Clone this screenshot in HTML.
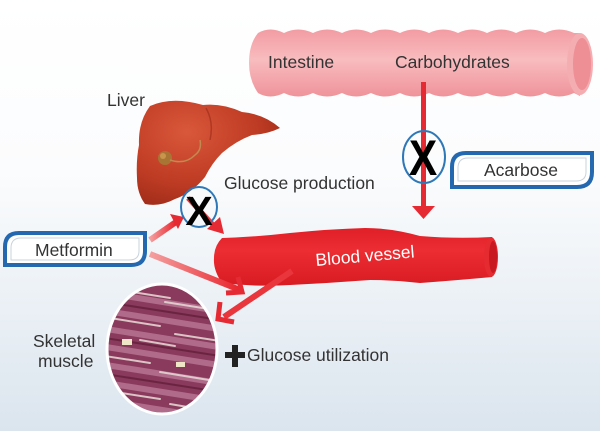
<!DOCTYPE html>
<html><head><meta charset="utf-8"><style>
html,body{margin:0;padding:0;width:600px;height:431px;overflow:hidden;background:#fff}
svg{display:block}
text{font-family:"Liberation Sans",Arial,sans-serif}
</style></head><body>
<svg width="600" height="431" viewBox="0 0 600 431" xmlns="http://www.w3.org/2000/svg">
<defs>
<linearGradient id="bg" x1="0" y1="0" x2="0" y2="1">
<stop offset="0" stop-color="#ffffff"/><stop offset="0.4" stop-color="#fbfcfd"/><stop offset="1" stop-color="#dbe5ee"/>
</linearGradient>
<linearGradient id="intg" x1="0" y1="0" x2="0" y2="1">
<stop offset="0" stop-color="#f29ca2"/><stop offset="0.45" stop-color="#f8bcbf"/><stop offset="1" stop-color="#ef939a"/>
</linearGradient>
<linearGradient id="vg" x1="0" y1="0" x2="0" y2="1">
<stop offset="0" stop-color="#e01f27"/><stop offset="0.4" stop-color="#ec2e33"/><stop offset="1" stop-color="#d81a22"/>
</linearGradient>
<radialGradient id="lg" cx="0.35" cy="0.3" r="0.8">
<stop offset="0" stop-color="#d9573a"/><stop offset="0.6" stop-color="#bf3c24"/><stop offset="1" stop-color="#9c2a18"/>
</radialGradient>
<linearGradient id="ag1" x1="0" y1="0" x2="1" y2="0">
<stop offset="0" stop-color="#f4a0a0"/><stop offset="1" stop-color="#e8242c"/>
</linearGradient>
<clipPath id="mc"><ellipse cx="162" cy="349" rx="54" ry="64"/></clipPath>
</defs>
<rect width="600" height="431" fill="url(#bg)"/>

<!-- Intestine -->
<path d="M258 33 Q270 26 284 33 Q298 26 313 33 Q327 26 342 33 Q356 26 371 33 Q385 26 400 33 Q414 26 429 33 Q443 26 458 33 Q472 26 487 33 Q501 26 516 33 Q530 26 545 33 Q559 26 574 33 L580 33 L580 96 L574 93 Q559 100 545 93 Q530 100 516 93 Q501 100 487 93 Q472 100 458 93 Q443 100 429 93 Q414 100 400 93 Q385 100 371 93 Q356 100 342 93 Q327 100 313 93 Q298 100 284 93 Q270 100 258 93 Q249 80 249 63 Q249 44 258 33 Z" fill="url(#intg)"/>
<ellipse cx="580" cy="64" rx="13" ry="31" fill="#f4aeb2"/>
<ellipse cx="582" cy="64" rx="9" ry="26" fill="#ee8e95"/>
<text x="268" y="68" font-size="17.5" fill="#333">Intestine</text>
<text x="395" y="68" font-size="17.5" fill="#333">Carbohydrates</text>

<!-- vertical arrow -->
<rect x="421" y="82" width="5" height="126" fill="#e52a33"/>
<polygon points="412,206 435,206 423.5,219" fill="#e52a33"/>
<ellipse cx="424" cy="157" rx="21" ry="26" fill="none" stroke="#2f78b8" stroke-width="2"/>
<text x="423" y="175" font-size="50" font-weight="bold" text-anchor="middle" fill="#000" transform="translate(423 0) scale(0.85 1) translate(-423 0)">X</text>

<!-- Acarbose box -->
<path d="M466 153 L592 153 L592 172 Q592 187 577 187 L452 187 L452 167 Q452 153 466 153 Z" fill="#fff" stroke="#2468b0" stroke-width="4"/>
<path d="M468 158 L586 158 L586 172 Q586 181 576 181 L458 181 L458 168 Q458 158 468 158 Z" fill="#fff" stroke="#c9d3de" stroke-width="1"/>
<text x="484" y="176" font-size="17.5" fill="#333">Acarbose</text>

<!-- Liver -->
<path d="M150 106 Q172 96 203 105 Q222 103 242 112 Q264 114 280 128 Q268 134 252 135 Q236 141 222 153 Q212 163 205 177 Q192 193 175 199 Q160 207 145 204 Q137 193 137 178 Q136 160 139 145 Q138 122 150 106 Z" fill="url(#lg)"/>
<path d="M206 108 Q214 122 210 140" stroke="#9b2a18" stroke-width="1.5" fill="none" opacity="0.6"/>
<circle cx="165" cy="158" r="7" fill="#a87534"/>
<circle cx="163" cy="156" r="3" fill="#c9954c"/>
<path d="M170 160 Q185 165 195 155 Q202 150 200 140" stroke="#c08a50" stroke-width="1.5" fill="none"/>
<text x="107" y="106" font-size="17.5" fill="#333">Liver</text>
<text x="224" y="189" font-size="17.5" fill="#333">Glucose production</text>

<!-- liver arrow -->
<line x1="188" y1="198" x2="216" y2="228" stroke="#e53a40" stroke-width="5"/>
<polygon points="207,229 224,234 220,217" fill="#e52a33"/>
<!-- metformin to liver -->
<line x1="150" y1="240" x2="176" y2="222" stroke="url(#ag1)" stroke-width="6"/>
<polygon points="170,214 184,217 178,229" fill="#e52a33"/>
<ellipse cx="199" cy="207" rx="18" ry="20" fill="none" stroke="#2f78b8" stroke-width="2"/>
<text x="199" y="225" font-size="41" font-weight="bold" text-anchor="middle" fill="#000">X</text>

<!-- Metformin box -->
<path d="M19 233 L145 233 L145 251 Q145 265 131 265 L5 265 L5 247 Q5 233 19 233 Z" fill="#fff" stroke="#2468b0" stroke-width="4"/>
<path d="M21 238 L139 238 L139 251 Q139 260 129 260 L11 260 L11 248 Q11 238 21 238 Z" fill="#fff" stroke="#c9d3de" stroke-width="1"/>
<text x="35" y="256" font-size="17.5" fill="#333">Metformin</text>

<!-- Blood vessel -->
<path d="M222 238 Q255 237 290 233 Q330 229 365 228 Q392 228 420 236 Q455 239 492 237 L492 277 Q460 280 420 283 Q395 280 370 280 Q330 283 290 285 Q255 287 222 283 Q213 270 214 258 Q214 246 222 238 Z" fill="url(#vg)"/>
<ellipse cx="491" cy="257" rx="7" ry="20" fill="#e52a30"/>
<ellipse cx="493" cy="257" rx="4" ry="16" fill="#c81820"/>
<text x="316" y="266" font-size="17.5" fill="#fff" transform="rotate(-5 316 266)">Blood vessel</text>

<!-- metformin to muscle arrow -->
<line x1="150" y1="254" x2="240" y2="290" stroke="url(#ag1)" stroke-width="6"/>
<polyline points="226,293 242,292 238,277" fill="none" stroke="#e52a33" stroke-width="5"/>
<!-- vessel to muscle arrow -->
<line x1="292" y1="271" x2="224" y2="317" stroke="#e8363c" stroke-width="6"/>
<polyline points="220,302 218,319 234,322" fill="none" stroke="#e52a33" stroke-width="5"/>

<!-- Muscle -->
<ellipse cx="162" cy="349" rx="56" ry="66" fill="#fff"/>
<g clip-path="url(#mc)">
<rect x="100" y="280" width="130" height="140" fill="#8a3a5c"/>
<g stroke-linecap="round" fill="none">
<g stroke="#b06a8a" stroke-width="6">
<line x1="100" y1="292" x2="225" y2="312"/><line x1="100" y1="310" x2="225" y2="330"/><line x1="100" y1="328" x2="225" y2="348"/><line x1="100" y1="346" x2="225" y2="366"/><line x1="100" y1="364" x2="225" y2="384"/><line x1="100" y1="382" x2="225" y2="402"/><line x1="100" y1="400" x2="225" y2="420"/>
</g>
<g stroke="#e4d4d2" stroke-width="2" opacity="0.9">
<line x1="120" y1="290" x2="170" y2="298"/><line x1="110" y1="318" x2="160" y2="326"/><line x1="175" y1="334" x2="220" y2="341"/><line x1="140" y1="340" x2="175" y2="346"/><line x1="105" y1="356" x2="150" y2="363"/><line x1="160" y1="372" x2="215" y2="381"/><line x1="115" y1="392" x2="160" y2="399"/><line x1="165" y1="302" x2="215" y2="310"/><line x1="170" y1="404" x2="205" y2="410"/>
</g>
<g stroke="#6a2442" stroke-width="2">
<line x1="105" y1="302" x2="220" y2="320"/><line x1="105" y1="338" x2="220" y2="356"/><line x1="105" y1="374" x2="220" y2="392"/><line x1="105" y1="408" x2="220" y2="426"/>
</g>
</g>
<rect x="122" y="339" width="10" height="6" fill="#efe6c8"/>
<rect x="176" y="362" width="9" height="5" fill="#efe6c8"/>
</g>
<ellipse cx="162" cy="349" rx="55" ry="65" fill="none" stroke="#fff" stroke-width="3"/>
<text x="33" y="347" font-size="17.5" fill="#333">Skeletal</text>
<text x="38" y="367" font-size="17.5" fill="#333">muscle</text>

<!-- plus -->
<rect x="225" y="352" width="20" height="6" fill="#222"/>
<rect x="232" y="345" width="6" height="22" fill="#222"/>
<text x="247" y="361" font-size="17.5" fill="#333">Glucose utilization</text>
</svg>
</body></html>
